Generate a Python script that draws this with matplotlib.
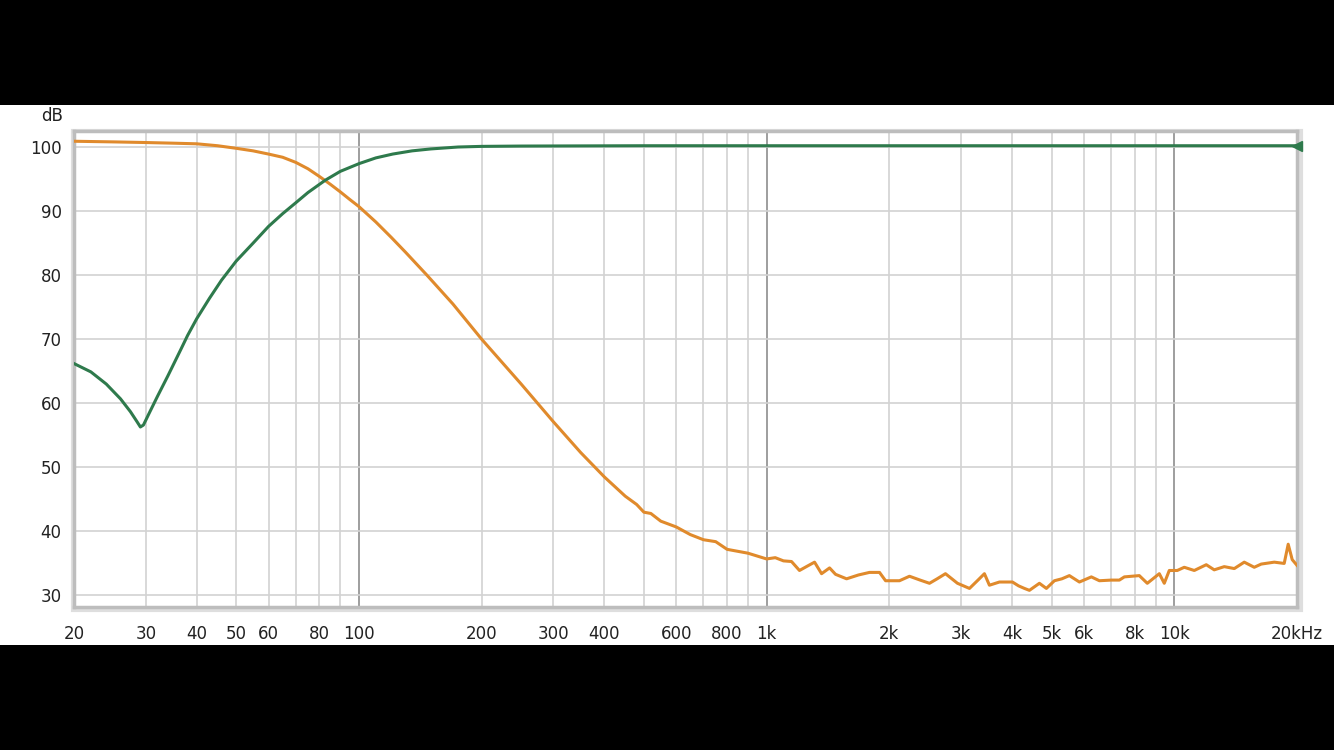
import matplotlib.pyplot as plt
import matplotlib.patches as mpatches

# green trace (frequency [Hz], level [dB])
green_f = [20, 22, 24, 26, 27.5, 28.5, 29.1, 29.6, 30.5, 32, 34, 36.5, 38, 40, 43, 46, 50,
           55, 60, 65, 70, 75, 82.6, 90, 100, 110, 121, 135, 150, 175, 200, 250, 500, 1000,
           5000, 20000]
green_db = [66.2, 64.9, 63.0, 60.7, 58.7, 57.2, 56.3, 56.6, 58.3, 61.0, 64.3, 68.3, 70.6, 73.2,
            76.4, 79.2, 82.2, 85.0, 87.6, 89.6, 91.3, 92.9, 94.8, 96.2, 97.4, 98.3, 98.9, 99.4,
            99.7, 100.0, 100.1, 100.15, 100.2, 100.2, 100.2, 100.2]

# orange trace (frequency [Hz], level [dB])
orange_f = [20, 25, 30, 35, 40, 45, 50, 55, 60, 65, 70, 75, 80, 85, 90, 95, 100, 110, 120, 130,
            146.8, 170, 200, 250, 300, 350, 400, 450, 480, 500, 520,
            550, 600, 650, 700, 750, 800, 900, 1000, 1050, 1100, 1151, 1204, 1260, 1311, 1364,
            1427, 1476, 1571, 1680, 1788, 1892, 1958, 2118, 2241, 2380, 2509, 2620, 2746, 2939,
            3145, 3300, 3422, 3520, 3725, 4009, 4150, 4290, 4412, 4668, 4856, 5081, 5300, 5529,
            5851, 6260, 6551, 7000, 7333, 7543, 8207, 8586, 9189, 9451, 9721, 10170, 10580,
            11195, 11980, 12530, 13262, 14035, 14847, 15710, 16340, 17590, 18605, 19030, 19465,
            20000]
orange_db = [100.9, 100.8, 100.7, 100.6, 100.5, 100.2, 99.8, 99.4, 98.9, 98.4, 97.6, 96.6, 95.4,
             94.2, 93.0, 91.8, 90.7, 88.3, 85.9, 83.6, 80.0, 75.5, 70.0, 63.0, 57.1, 52.3, 48.5,
             45.5, 44.2, 43.0, 42.8, 41.6, 40.7, 39.5, 38.7, 38.4, 37.2, 36.6, 35.7, 35.9, 35.4,
             35.3, 33.9, 34.6, 35.2, 33.4, 34.3, 33.3, 32.6, 33.2, 33.6, 33.6, 32.3, 32.3, 33.0,
             32.4, 31.9, 32.6, 33.4, 31.9, 31.1, 32.4, 33.4, 31.6, 32.1, 32.1, 31.5, 31.1, 30.8,
             31.9, 31.1, 32.3, 32.6, 33.1, 32.1, 32.9, 32.3, 32.4, 32.4, 32.9, 33.1, 31.9, 33.4,
             31.9, 33.9, 33.9, 34.4, 33.9, 34.8, 34.0, 34.5, 34.2, 35.2, 34.4, 34.9, 35.2, 35.0,
             38.0, 35.6, 34.7]

grid_f = [20, 30, 40, 50, 60, 70, 80, 90, 100, 200, 300, 400, 500, 600, 700, 800, 900,
          1000, 2000, 3000, 4000, 5000, 6000, 7000, 8000, 9000, 10000, 20000]
tick_f = [20, 30, 40, 50, 60, 80, 100, 200, 300, 400, 600, 800, 1000, 2000, 3000, 4000,
          5000, 6000, 8000, 10000, 20000]
tick_labels = ["20", "30", "40", "50", "60", "80", "100", "200", "300", "400", "600", "800",
               "1k", "2k", "3k", "4k", "5k", "6k", "8k", "10k", "20kHz"]
decades = [100, 1000, 10000]
db_ticks = [30, 40, 50, 60, 70, 80, 90, 100]

W, H = 1334, 750
fig = plt.figure(figsize=(W / 100, H / 100), dpi=100, facecolor="black")

# white band between the black bars
band = fig.add_axes([0, (H - 645) / H, 1, 540 / H], zorder=0)
band.set_facecolor("white")
band.set_xticks([])
band.set_yticks([])
for sp in band.spines.values():
    sp.set_visible(False)

left, right, top, bottom = 74, 1297, 131, 607
# soft shadow frame
band.add_patch(mpatches.Rectangle(((left - 1) / W, (645 - bottom - 3) / 540), (right - left + 5) / W,
                                  (bottom - top + 3) / 540, transform=band.transAxes,
                                  facecolor="none", edgecolor="#dedede", linewidth=3))

ax = fig.add_axes([left / W, (H - bottom) / H, (right - left) / W, (bottom - top) / H], zorder=2)
ax.set_facecolor("white")
ax.set_xscale("log")
ax.set_xlim(20, 20000)
ax.set_ylim(28.2, 102.5)

for f in grid_f:
    ax.axvline(f, color="#d2d2d2", linewidth=1.2, zorder=1)
for f in decades:
    ax.axvline(f, color="#9a9a9a", linewidth=1.3, zorder=1)
for d in db_ticks:
    ax.axhline(d, color="#d2d2d2", linewidth=1.2, zorder=1)

ax.plot(orange_f, orange_db, color="#e08a2c", linewidth=2.2, zorder=3, solid_joinstyle="round")
ax.plot(green_f, green_db, color="#2e7a4c", linewidth=2.2, zorder=4, solid_joinstyle="round")
ax.plot([green_f[-1]], [green_db[-1]], marker="<", color="#2e7a4c", markersize=7, zorder=5,
        clip_on=False)

ax.set_xticks(tick_f)
ax.set_xticklabels(tick_labels)
ax.xaxis.set_minor_locator(plt.NullLocator())
ax.set_yticks(db_ticks)
ax.tick_params(axis="both", length=0, labelsize=12, colors="#222222")
ax.tick_params(axis="x", pad=13)
ax.tick_params(axis="y", pad=9)

for sp in ax.spines.values():
    sp.set_color("#bdbdbd")
    sp.set_linewidth(2.5)

fig.text(52 / W, (H - 116) / H, "dB", fontsize=12, color="#222222", ha="center", va="center")

fig.savefig("out.png", dpi=100, facecolor="black")
